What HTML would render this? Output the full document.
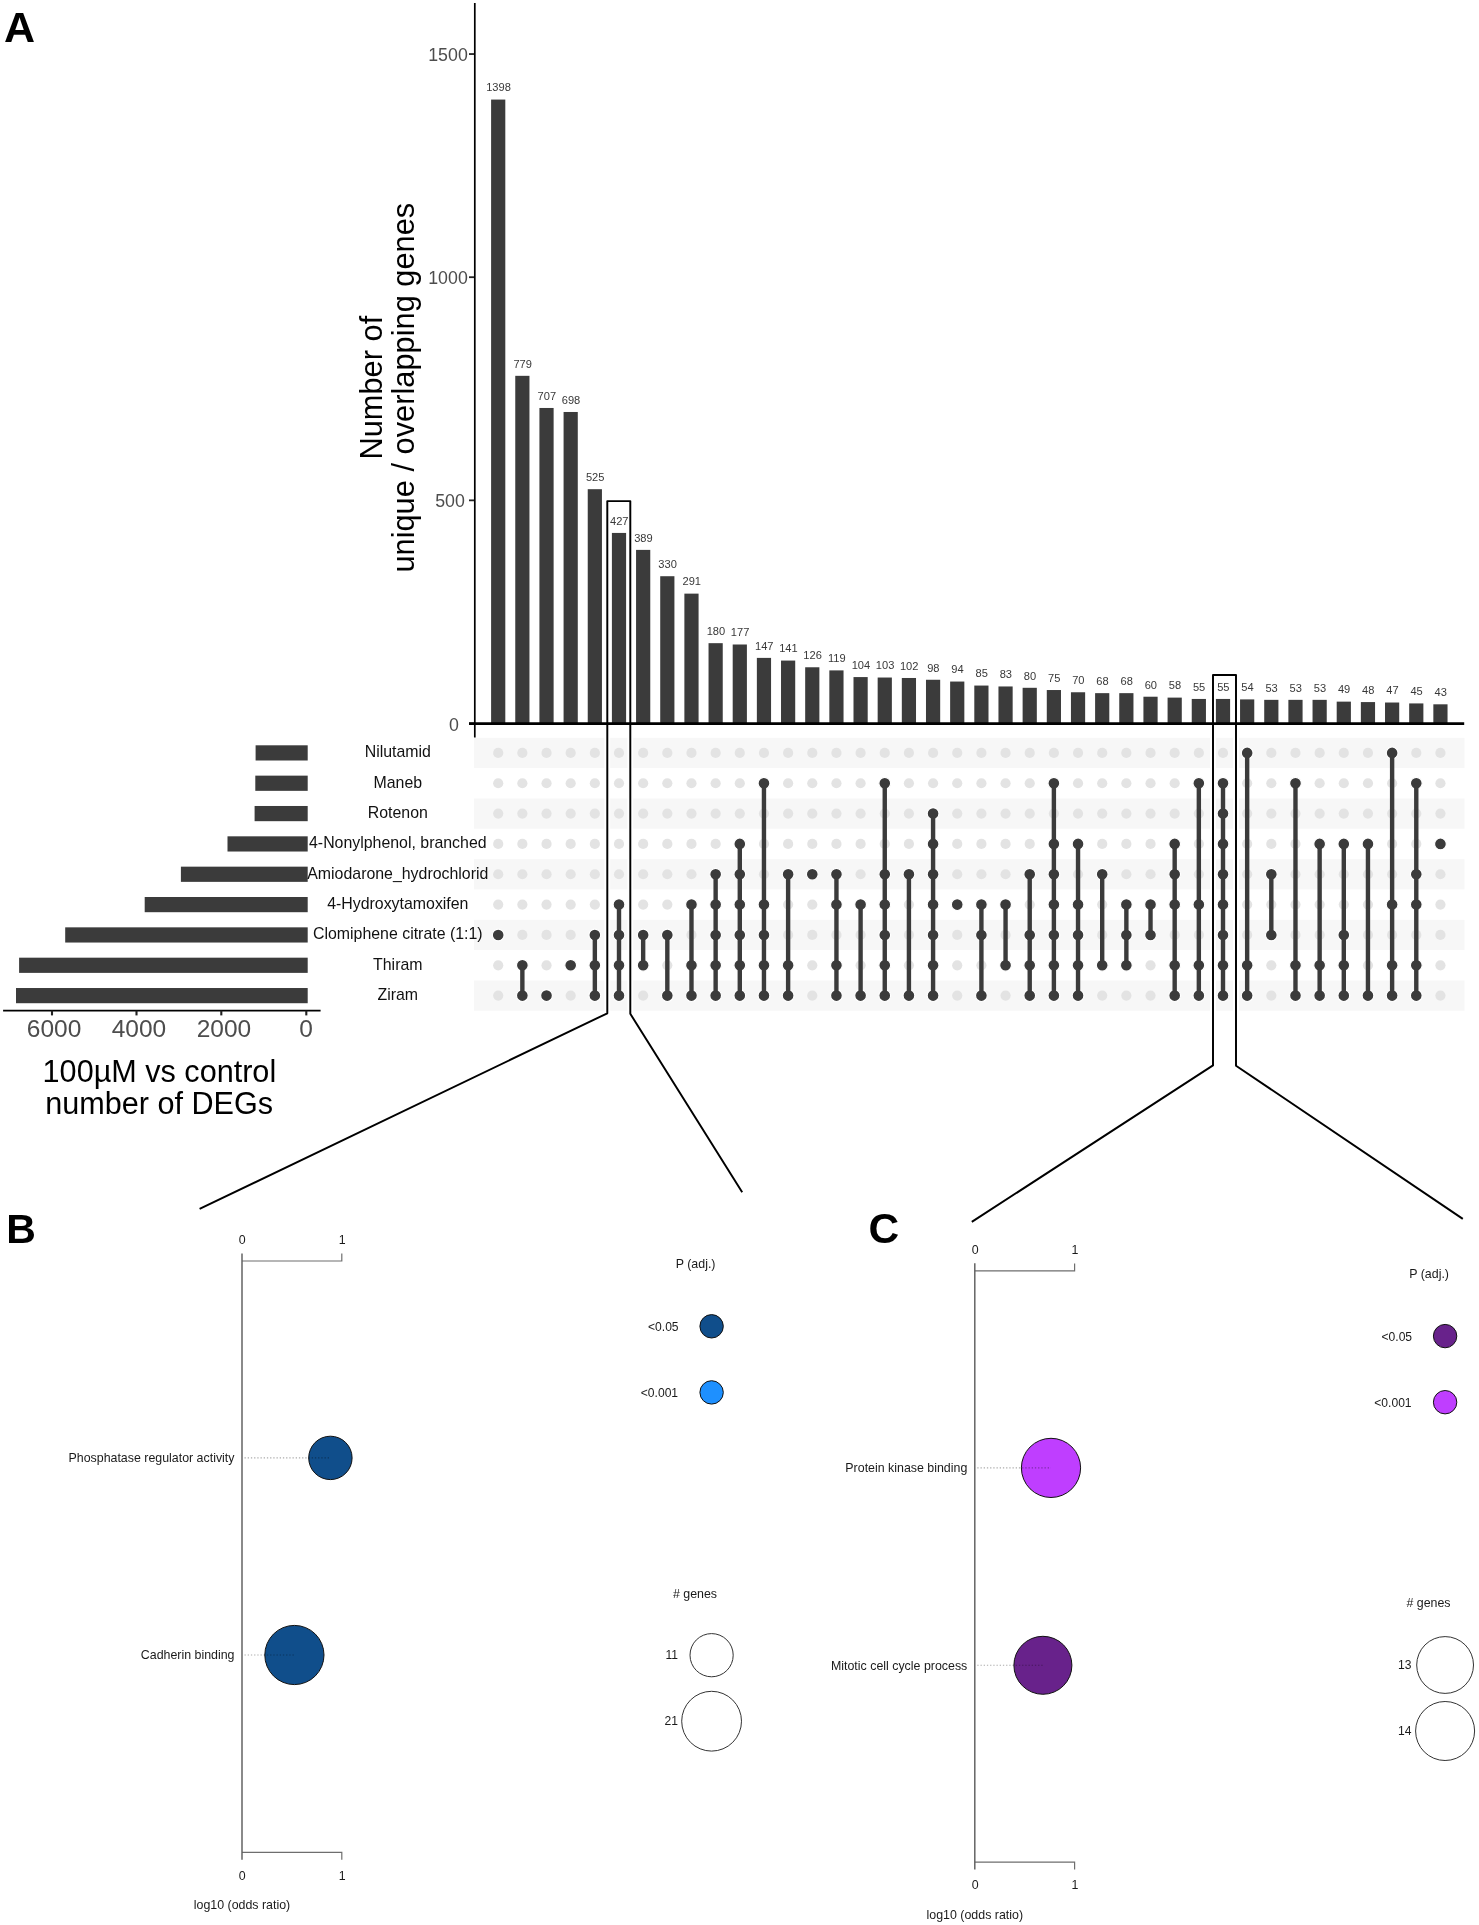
<!DOCTYPE html>
<html><head><meta charset="utf-8"><title>UpSet plot with enrichment panels</title>
<style>
html,body{margin:0;padding:0;background:#fff;}
svg{display:block;}
text{font-family:"Liberation Sans", sans-serif;}
</style></head>
<body>
<div style="will-change:transform">
<svg width="1479" height="1925" viewBox="0 0 1479 1925">
<rect width="1479" height="1925" fill="#fff"/>
<rect x="474" y="737.80" width="990.5" height="30.2" fill="#f7f7f7"/>
<rect x="474" y="798.48" width="990.5" height="30.2" fill="#f7f7f7"/>
<rect x="474" y="859.16" width="990.5" height="30.2" fill="#f7f7f7"/>
<rect x="474" y="919.84" width="990.5" height="30.2" fill="#f7f7f7"/>
<rect x="474" y="980.52" width="990.5" height="30.2" fill="#f7f7f7"/>
<rect x="491.10" y="99.57" width="14.2" height="623.93" fill="#3b3b3b"/>
<text x="498.50" y="91.37" font-size="11.1" fill="#383838" text-anchor="middle">1398</text>
<rect x="515.26" y="375.83" width="14.2" height="347.67" fill="#3b3b3b"/>
<text x="522.66" y="367.63" font-size="11.1" fill="#383838" text-anchor="middle">779</text>
<rect x="539.42" y="407.97" width="14.2" height="315.53" fill="#3b3b3b"/>
<text x="546.82" y="399.77" font-size="11.1" fill="#383838" text-anchor="middle">707</text>
<rect x="563.58" y="411.98" width="14.2" height="311.52" fill="#3b3b3b"/>
<text x="570.98" y="403.78" font-size="11.1" fill="#383838" text-anchor="middle">698</text>
<rect x="587.74" y="489.19" width="14.2" height="234.31" fill="#3b3b3b"/>
<text x="595.14" y="480.99" font-size="11.1" fill="#383838" text-anchor="middle">525</text>
<rect x="611.90" y="532.93" width="14.2" height="190.57" fill="#3b3b3b"/>
<text x="619.30" y="524.73" font-size="11.1" fill="#383838" text-anchor="middle">427</text>
<rect x="636.06" y="549.89" width="14.2" height="173.61" fill="#3b3b3b"/>
<text x="643.46" y="541.69" font-size="11.1" fill="#383838" text-anchor="middle">389</text>
<rect x="660.22" y="576.22" width="14.2" height="147.28" fill="#3b3b3b"/>
<text x="667.62" y="568.02" font-size="11.1" fill="#383838" text-anchor="middle">330</text>
<rect x="684.38" y="593.63" width="14.2" height="129.87" fill="#3b3b3b"/>
<text x="691.78" y="585.43" font-size="11.1" fill="#383838" text-anchor="middle">291</text>
<rect x="708.54" y="643.17" width="14.2" height="80.33" fill="#3b3b3b"/>
<text x="715.94" y="634.97" font-size="11.1" fill="#383838" text-anchor="middle">180</text>
<rect x="732.70" y="644.50" width="14.2" height="79.00" fill="#3b3b3b"/>
<text x="740.10" y="636.30" font-size="11.1" fill="#383838" text-anchor="middle">177</text>
<rect x="756.86" y="657.89" width="14.2" height="65.61" fill="#3b3b3b"/>
<text x="764.26" y="649.69" font-size="11.1" fill="#383838" text-anchor="middle">147</text>
<rect x="781.02" y="660.57" width="14.2" height="62.93" fill="#3b3b3b"/>
<text x="788.42" y="652.37" font-size="11.1" fill="#383838" text-anchor="middle">141</text>
<rect x="805.18" y="667.27" width="14.2" height="56.23" fill="#3b3b3b"/>
<text x="812.58" y="659.07" font-size="11.1" fill="#383838" text-anchor="middle">126</text>
<rect x="829.34" y="670.39" width="14.2" height="53.11" fill="#3b3b3b"/>
<text x="836.74" y="662.19" font-size="11.1" fill="#383838" text-anchor="middle">119</text>
<rect x="853.50" y="677.08" width="14.2" height="46.42" fill="#3b3b3b"/>
<text x="860.90" y="668.88" font-size="11.1" fill="#383838" text-anchor="middle">104</text>
<rect x="877.66" y="677.53" width="14.2" height="45.97" fill="#3b3b3b"/>
<text x="885.06" y="669.33" font-size="11.1" fill="#383838" text-anchor="middle">103</text>
<rect x="901.82" y="677.98" width="14.2" height="45.52" fill="#3b3b3b"/>
<text x="909.22" y="669.78" font-size="11.1" fill="#383838" text-anchor="middle">102</text>
<rect x="925.98" y="679.76" width="14.2" height="43.74" fill="#3b3b3b"/>
<text x="933.38" y="671.56" font-size="11.1" fill="#383838" text-anchor="middle">98</text>
<rect x="950.14" y="681.55" width="14.2" height="41.95" fill="#3b3b3b"/>
<text x="957.54" y="673.35" font-size="11.1" fill="#383838" text-anchor="middle">94</text>
<rect x="974.30" y="685.56" width="14.2" height="37.94" fill="#3b3b3b"/>
<text x="981.70" y="677.36" font-size="11.1" fill="#383838" text-anchor="middle">85</text>
<rect x="998.46" y="686.46" width="14.2" height="37.04" fill="#3b3b3b"/>
<text x="1005.86" y="678.26" font-size="11.1" fill="#383838" text-anchor="middle">83</text>
<rect x="1022.62" y="687.80" width="14.2" height="35.70" fill="#3b3b3b"/>
<text x="1030.02" y="679.60" font-size="11.1" fill="#383838" text-anchor="middle">80</text>
<rect x="1046.78" y="690.03" width="14.2" height="33.47" fill="#3b3b3b"/>
<text x="1054.18" y="681.83" font-size="11.1" fill="#383838" text-anchor="middle">75</text>
<rect x="1070.94" y="692.26" width="14.2" height="31.24" fill="#3b3b3b"/>
<text x="1078.34" y="684.06" font-size="11.1" fill="#383838" text-anchor="middle">70</text>
<rect x="1095.10" y="693.15" width="14.2" height="30.35" fill="#3b3b3b"/>
<text x="1102.50" y="684.95" font-size="11.1" fill="#383838" text-anchor="middle">68</text>
<rect x="1119.26" y="693.15" width="14.2" height="30.35" fill="#3b3b3b"/>
<text x="1126.66" y="684.95" font-size="11.1" fill="#383838" text-anchor="middle">68</text>
<rect x="1143.42" y="696.72" width="14.2" height="26.78" fill="#3b3b3b"/>
<text x="1150.82" y="688.52" font-size="11.1" fill="#383838" text-anchor="middle">60</text>
<rect x="1167.58" y="697.61" width="14.2" height="25.89" fill="#3b3b3b"/>
<text x="1174.98" y="689.41" font-size="11.1" fill="#383838" text-anchor="middle">58</text>
<rect x="1191.74" y="698.95" width="14.2" height="24.55" fill="#3b3b3b"/>
<text x="1199.14" y="690.75" font-size="11.1" fill="#383838" text-anchor="middle">55</text>
<rect x="1215.90" y="698.95" width="14.2" height="24.55" fill="#3b3b3b"/>
<text x="1223.30" y="690.75" font-size="11.1" fill="#383838" text-anchor="middle">55</text>
<rect x="1240.06" y="699.40" width="14.2" height="24.10" fill="#3b3b3b"/>
<text x="1247.46" y="691.20" font-size="11.1" fill="#383838" text-anchor="middle">54</text>
<rect x="1264.22" y="699.85" width="14.2" height="23.65" fill="#3b3b3b"/>
<text x="1271.62" y="691.65" font-size="11.1" fill="#383838" text-anchor="middle">53</text>
<rect x="1288.38" y="699.85" width="14.2" height="23.65" fill="#3b3b3b"/>
<text x="1295.78" y="691.65" font-size="11.1" fill="#383838" text-anchor="middle">53</text>
<rect x="1312.54" y="699.85" width="14.2" height="23.65" fill="#3b3b3b"/>
<text x="1319.94" y="691.65" font-size="11.1" fill="#383838" text-anchor="middle">53</text>
<rect x="1336.70" y="701.63" width="14.2" height="21.87" fill="#3b3b3b"/>
<text x="1344.10" y="693.43" font-size="11.1" fill="#383838" text-anchor="middle">49</text>
<rect x="1360.86" y="702.08" width="14.2" height="21.42" fill="#3b3b3b"/>
<text x="1368.26" y="693.88" font-size="11.1" fill="#383838" text-anchor="middle">48</text>
<rect x="1385.02" y="702.52" width="14.2" height="20.98" fill="#3b3b3b"/>
<text x="1392.42" y="694.32" font-size="11.1" fill="#383838" text-anchor="middle">47</text>
<rect x="1409.18" y="703.42" width="14.2" height="20.08" fill="#3b3b3b"/>
<text x="1416.58" y="695.22" font-size="11.1" fill="#383838" text-anchor="middle">45</text>
<rect x="1433.34" y="704.31" width="14.2" height="19.19" fill="#3b3b3b"/>
<text x="1440.74" y="696.11" font-size="11.1" fill="#383838" text-anchor="middle">43</text>
<line x1="474.8" y1="3" x2="474.8" y2="737.6" stroke="#000" stroke-width="1.7"/>
<line x1="469" y1="723.50" x2="474" y2="723.50" stroke="#222" stroke-width="1.8"/>
<text x="458.80" y="730.50" font-size="17.8" fill="#4d4d4d" text-anchor="end">0</text>
<line x1="469" y1="500.35" x2="474" y2="500.35" stroke="#222" stroke-width="1.8"/>
<text x="464.90" y="507.35" font-size="17.8" fill="#4d4d4d" text-anchor="end">500</text>
<line x1="469" y1="277.20" x2="474" y2="277.20" stroke="#222" stroke-width="1.8"/>
<text x="467.80" y="284.20" font-size="17.8" fill="#4d4d4d" text-anchor="end">1000</text>
<line x1="469" y1="54.05" x2="474" y2="54.05" stroke="#222" stroke-width="1.8"/>
<text x="467.80" y="61.05" font-size="17.8" fill="#4d4d4d" text-anchor="end">1500</text>
<line x1="469" y1="723.70" x2="1464.2" y2="723.70" stroke="#000" stroke-width="2.7"/>
<text transform="translate(382.4,387.7) rotate(-90)" font-size="30.8" text-anchor="middle" fill="#000">Number of</text>
<text transform="translate(414.0,387.7) rotate(-90)" font-size="30.8" text-anchor="middle" fill="#000">unique / overlapping genes</text>
<circle cx="498.20" cy="752.90" r="5.1" fill="#e3e3e3"/>
<circle cx="498.20" cy="783.24" r="5.1" fill="#e3e3e3"/>
<circle cx="498.20" cy="813.58" r="5.1" fill="#e3e3e3"/>
<circle cx="498.20" cy="843.92" r="5.1" fill="#e3e3e3"/>
<circle cx="498.20" cy="874.26" r="5.1" fill="#e3e3e3"/>
<circle cx="498.20" cy="904.60" r="5.1" fill="#e3e3e3"/>
<circle cx="498.20" cy="965.28" r="5.1" fill="#e3e3e3"/>
<circle cx="498.20" cy="995.62" r="5.1" fill="#e3e3e3"/>
<circle cx="522.36" cy="752.90" r="5.1" fill="#e3e3e3"/>
<circle cx="522.36" cy="783.24" r="5.1" fill="#e3e3e3"/>
<circle cx="522.36" cy="813.58" r="5.1" fill="#e3e3e3"/>
<circle cx="522.36" cy="843.92" r="5.1" fill="#e3e3e3"/>
<circle cx="522.36" cy="874.26" r="5.1" fill="#e3e3e3"/>
<circle cx="522.36" cy="904.60" r="5.1" fill="#e3e3e3"/>
<circle cx="522.36" cy="934.94" r="5.1" fill="#e3e3e3"/>
<circle cx="546.52" cy="752.90" r="5.1" fill="#e3e3e3"/>
<circle cx="546.52" cy="783.24" r="5.1" fill="#e3e3e3"/>
<circle cx="546.52" cy="813.58" r="5.1" fill="#e3e3e3"/>
<circle cx="546.52" cy="843.92" r="5.1" fill="#e3e3e3"/>
<circle cx="546.52" cy="874.26" r="5.1" fill="#e3e3e3"/>
<circle cx="546.52" cy="904.60" r="5.1" fill="#e3e3e3"/>
<circle cx="546.52" cy="934.94" r="5.1" fill="#e3e3e3"/>
<circle cx="546.52" cy="965.28" r="5.1" fill="#e3e3e3"/>
<circle cx="570.68" cy="752.90" r="5.1" fill="#e3e3e3"/>
<circle cx="570.68" cy="783.24" r="5.1" fill="#e3e3e3"/>
<circle cx="570.68" cy="813.58" r="5.1" fill="#e3e3e3"/>
<circle cx="570.68" cy="843.92" r="5.1" fill="#e3e3e3"/>
<circle cx="570.68" cy="874.26" r="5.1" fill="#e3e3e3"/>
<circle cx="570.68" cy="904.60" r="5.1" fill="#e3e3e3"/>
<circle cx="570.68" cy="934.94" r="5.1" fill="#e3e3e3"/>
<circle cx="570.68" cy="995.62" r="5.1" fill="#e3e3e3"/>
<circle cx="594.84" cy="752.90" r="5.1" fill="#e3e3e3"/>
<circle cx="594.84" cy="783.24" r="5.1" fill="#e3e3e3"/>
<circle cx="594.84" cy="813.58" r="5.1" fill="#e3e3e3"/>
<circle cx="594.84" cy="843.92" r="5.1" fill="#e3e3e3"/>
<circle cx="594.84" cy="874.26" r="5.1" fill="#e3e3e3"/>
<circle cx="594.84" cy="904.60" r="5.1" fill="#e3e3e3"/>
<circle cx="619.00" cy="752.90" r="5.1" fill="#e3e3e3"/>
<circle cx="619.00" cy="783.24" r="5.1" fill="#e3e3e3"/>
<circle cx="619.00" cy="813.58" r="5.1" fill="#e3e3e3"/>
<circle cx="619.00" cy="843.92" r="5.1" fill="#e3e3e3"/>
<circle cx="619.00" cy="874.26" r="5.1" fill="#e3e3e3"/>
<circle cx="643.16" cy="752.90" r="5.1" fill="#e3e3e3"/>
<circle cx="643.16" cy="783.24" r="5.1" fill="#e3e3e3"/>
<circle cx="643.16" cy="813.58" r="5.1" fill="#e3e3e3"/>
<circle cx="643.16" cy="843.92" r="5.1" fill="#e3e3e3"/>
<circle cx="643.16" cy="874.26" r="5.1" fill="#e3e3e3"/>
<circle cx="643.16" cy="904.60" r="5.1" fill="#e3e3e3"/>
<circle cx="643.16" cy="995.62" r="5.1" fill="#e3e3e3"/>
<circle cx="667.32" cy="752.90" r="5.1" fill="#e3e3e3"/>
<circle cx="667.32" cy="783.24" r="5.1" fill="#e3e3e3"/>
<circle cx="667.32" cy="813.58" r="5.1" fill="#e3e3e3"/>
<circle cx="667.32" cy="843.92" r="5.1" fill="#e3e3e3"/>
<circle cx="667.32" cy="874.26" r="5.1" fill="#e3e3e3"/>
<circle cx="667.32" cy="904.60" r="5.1" fill="#e3e3e3"/>
<circle cx="667.32" cy="965.28" r="5.1" fill="#e3e3e3"/>
<circle cx="691.48" cy="752.90" r="5.1" fill="#e3e3e3"/>
<circle cx="691.48" cy="783.24" r="5.1" fill="#e3e3e3"/>
<circle cx="691.48" cy="813.58" r="5.1" fill="#e3e3e3"/>
<circle cx="691.48" cy="843.92" r="5.1" fill="#e3e3e3"/>
<circle cx="691.48" cy="874.26" r="5.1" fill="#e3e3e3"/>
<circle cx="691.48" cy="934.94" r="5.1" fill="#e3e3e3"/>
<circle cx="715.64" cy="752.90" r="5.1" fill="#e3e3e3"/>
<circle cx="715.64" cy="783.24" r="5.1" fill="#e3e3e3"/>
<circle cx="715.64" cy="813.58" r="5.1" fill="#e3e3e3"/>
<circle cx="715.64" cy="843.92" r="5.1" fill="#e3e3e3"/>
<circle cx="739.80" cy="752.90" r="5.1" fill="#e3e3e3"/>
<circle cx="739.80" cy="783.24" r="5.1" fill="#e3e3e3"/>
<circle cx="739.80" cy="813.58" r="5.1" fill="#e3e3e3"/>
<circle cx="763.96" cy="752.90" r="5.1" fill="#e3e3e3"/>
<circle cx="763.96" cy="813.58" r="5.1" fill="#e3e3e3"/>
<circle cx="763.96" cy="843.92" r="5.1" fill="#e3e3e3"/>
<circle cx="763.96" cy="874.26" r="5.1" fill="#e3e3e3"/>
<circle cx="788.12" cy="752.90" r="5.1" fill="#e3e3e3"/>
<circle cx="788.12" cy="783.24" r="5.1" fill="#e3e3e3"/>
<circle cx="788.12" cy="813.58" r="5.1" fill="#e3e3e3"/>
<circle cx="788.12" cy="843.92" r="5.1" fill="#e3e3e3"/>
<circle cx="788.12" cy="904.60" r="5.1" fill="#e3e3e3"/>
<circle cx="788.12" cy="934.94" r="5.1" fill="#e3e3e3"/>
<circle cx="812.28" cy="752.90" r="5.1" fill="#e3e3e3"/>
<circle cx="812.28" cy="783.24" r="5.1" fill="#e3e3e3"/>
<circle cx="812.28" cy="813.58" r="5.1" fill="#e3e3e3"/>
<circle cx="812.28" cy="843.92" r="5.1" fill="#e3e3e3"/>
<circle cx="812.28" cy="904.60" r="5.1" fill="#e3e3e3"/>
<circle cx="812.28" cy="934.94" r="5.1" fill="#e3e3e3"/>
<circle cx="812.28" cy="965.28" r="5.1" fill="#e3e3e3"/>
<circle cx="812.28" cy="995.62" r="5.1" fill="#e3e3e3"/>
<circle cx="836.44" cy="752.90" r="5.1" fill="#e3e3e3"/>
<circle cx="836.44" cy="783.24" r="5.1" fill="#e3e3e3"/>
<circle cx="836.44" cy="813.58" r="5.1" fill="#e3e3e3"/>
<circle cx="836.44" cy="843.92" r="5.1" fill="#e3e3e3"/>
<circle cx="836.44" cy="934.94" r="5.1" fill="#e3e3e3"/>
<circle cx="860.60" cy="752.90" r="5.1" fill="#e3e3e3"/>
<circle cx="860.60" cy="783.24" r="5.1" fill="#e3e3e3"/>
<circle cx="860.60" cy="813.58" r="5.1" fill="#e3e3e3"/>
<circle cx="860.60" cy="843.92" r="5.1" fill="#e3e3e3"/>
<circle cx="860.60" cy="874.26" r="5.1" fill="#e3e3e3"/>
<circle cx="860.60" cy="934.94" r="5.1" fill="#e3e3e3"/>
<circle cx="860.60" cy="965.28" r="5.1" fill="#e3e3e3"/>
<circle cx="884.76" cy="752.90" r="5.1" fill="#e3e3e3"/>
<circle cx="884.76" cy="813.58" r="5.1" fill="#e3e3e3"/>
<circle cx="884.76" cy="843.92" r="5.1" fill="#e3e3e3"/>
<circle cx="908.92" cy="752.90" r="5.1" fill="#e3e3e3"/>
<circle cx="908.92" cy="783.24" r="5.1" fill="#e3e3e3"/>
<circle cx="908.92" cy="813.58" r="5.1" fill="#e3e3e3"/>
<circle cx="908.92" cy="843.92" r="5.1" fill="#e3e3e3"/>
<circle cx="908.92" cy="904.60" r="5.1" fill="#e3e3e3"/>
<circle cx="908.92" cy="934.94" r="5.1" fill="#e3e3e3"/>
<circle cx="908.92" cy="965.28" r="5.1" fill="#e3e3e3"/>
<circle cx="933.08" cy="752.90" r="5.1" fill="#e3e3e3"/>
<circle cx="933.08" cy="783.24" r="5.1" fill="#e3e3e3"/>
<circle cx="957.24" cy="752.90" r="5.1" fill="#e3e3e3"/>
<circle cx="957.24" cy="783.24" r="5.1" fill="#e3e3e3"/>
<circle cx="957.24" cy="813.58" r="5.1" fill="#e3e3e3"/>
<circle cx="957.24" cy="843.92" r="5.1" fill="#e3e3e3"/>
<circle cx="957.24" cy="874.26" r="5.1" fill="#e3e3e3"/>
<circle cx="957.24" cy="934.94" r="5.1" fill="#e3e3e3"/>
<circle cx="957.24" cy="965.28" r="5.1" fill="#e3e3e3"/>
<circle cx="957.24" cy="995.62" r="5.1" fill="#e3e3e3"/>
<circle cx="981.40" cy="752.90" r="5.1" fill="#e3e3e3"/>
<circle cx="981.40" cy="783.24" r="5.1" fill="#e3e3e3"/>
<circle cx="981.40" cy="813.58" r="5.1" fill="#e3e3e3"/>
<circle cx="981.40" cy="843.92" r="5.1" fill="#e3e3e3"/>
<circle cx="981.40" cy="874.26" r="5.1" fill="#e3e3e3"/>
<circle cx="981.40" cy="965.28" r="5.1" fill="#e3e3e3"/>
<circle cx="1005.56" cy="752.90" r="5.1" fill="#e3e3e3"/>
<circle cx="1005.56" cy="783.24" r="5.1" fill="#e3e3e3"/>
<circle cx="1005.56" cy="813.58" r="5.1" fill="#e3e3e3"/>
<circle cx="1005.56" cy="843.92" r="5.1" fill="#e3e3e3"/>
<circle cx="1005.56" cy="874.26" r="5.1" fill="#e3e3e3"/>
<circle cx="1005.56" cy="934.94" r="5.1" fill="#e3e3e3"/>
<circle cx="1005.56" cy="995.62" r="5.1" fill="#e3e3e3"/>
<circle cx="1029.72" cy="752.90" r="5.1" fill="#e3e3e3"/>
<circle cx="1029.72" cy="783.24" r="5.1" fill="#e3e3e3"/>
<circle cx="1029.72" cy="813.58" r="5.1" fill="#e3e3e3"/>
<circle cx="1029.72" cy="843.92" r="5.1" fill="#e3e3e3"/>
<circle cx="1029.72" cy="904.60" r="5.1" fill="#e3e3e3"/>
<circle cx="1053.88" cy="752.90" r="5.1" fill="#e3e3e3"/>
<circle cx="1053.88" cy="813.58" r="5.1" fill="#e3e3e3"/>
<circle cx="1078.04" cy="752.90" r="5.1" fill="#e3e3e3"/>
<circle cx="1078.04" cy="783.24" r="5.1" fill="#e3e3e3"/>
<circle cx="1078.04" cy="813.58" r="5.1" fill="#e3e3e3"/>
<circle cx="1078.04" cy="874.26" r="5.1" fill="#e3e3e3"/>
<circle cx="1102.20" cy="752.90" r="5.1" fill="#e3e3e3"/>
<circle cx="1102.20" cy="783.24" r="5.1" fill="#e3e3e3"/>
<circle cx="1102.20" cy="813.58" r="5.1" fill="#e3e3e3"/>
<circle cx="1102.20" cy="843.92" r="5.1" fill="#e3e3e3"/>
<circle cx="1102.20" cy="904.60" r="5.1" fill="#e3e3e3"/>
<circle cx="1102.20" cy="934.94" r="5.1" fill="#e3e3e3"/>
<circle cx="1102.20" cy="995.62" r="5.1" fill="#e3e3e3"/>
<circle cx="1126.36" cy="752.90" r="5.1" fill="#e3e3e3"/>
<circle cx="1126.36" cy="783.24" r="5.1" fill="#e3e3e3"/>
<circle cx="1126.36" cy="813.58" r="5.1" fill="#e3e3e3"/>
<circle cx="1126.36" cy="843.92" r="5.1" fill="#e3e3e3"/>
<circle cx="1126.36" cy="874.26" r="5.1" fill="#e3e3e3"/>
<circle cx="1126.36" cy="995.62" r="5.1" fill="#e3e3e3"/>
<circle cx="1150.52" cy="752.90" r="5.1" fill="#e3e3e3"/>
<circle cx="1150.52" cy="783.24" r="5.1" fill="#e3e3e3"/>
<circle cx="1150.52" cy="813.58" r="5.1" fill="#e3e3e3"/>
<circle cx="1150.52" cy="843.92" r="5.1" fill="#e3e3e3"/>
<circle cx="1150.52" cy="874.26" r="5.1" fill="#e3e3e3"/>
<circle cx="1150.52" cy="965.28" r="5.1" fill="#e3e3e3"/>
<circle cx="1150.52" cy="995.62" r="5.1" fill="#e3e3e3"/>
<circle cx="1174.68" cy="752.90" r="5.1" fill="#e3e3e3"/>
<circle cx="1174.68" cy="783.24" r="5.1" fill="#e3e3e3"/>
<circle cx="1174.68" cy="813.58" r="5.1" fill="#e3e3e3"/>
<circle cx="1174.68" cy="934.94" r="5.1" fill="#e3e3e3"/>
<circle cx="1198.84" cy="752.90" r="5.1" fill="#e3e3e3"/>
<circle cx="1198.84" cy="813.58" r="5.1" fill="#e3e3e3"/>
<circle cx="1198.84" cy="843.92" r="5.1" fill="#e3e3e3"/>
<circle cx="1198.84" cy="874.26" r="5.1" fill="#e3e3e3"/>
<circle cx="1198.84" cy="934.94" r="5.1" fill="#e3e3e3"/>
<circle cx="1223.00" cy="752.90" r="5.1" fill="#e3e3e3"/>
<circle cx="1247.16" cy="783.24" r="5.1" fill="#e3e3e3"/>
<circle cx="1247.16" cy="813.58" r="5.1" fill="#e3e3e3"/>
<circle cx="1247.16" cy="843.92" r="5.1" fill="#e3e3e3"/>
<circle cx="1247.16" cy="874.26" r="5.1" fill="#e3e3e3"/>
<circle cx="1247.16" cy="904.60" r="5.1" fill="#e3e3e3"/>
<circle cx="1247.16" cy="934.94" r="5.1" fill="#e3e3e3"/>
<circle cx="1271.32" cy="752.90" r="5.1" fill="#e3e3e3"/>
<circle cx="1271.32" cy="783.24" r="5.1" fill="#e3e3e3"/>
<circle cx="1271.32" cy="813.58" r="5.1" fill="#e3e3e3"/>
<circle cx="1271.32" cy="843.92" r="5.1" fill="#e3e3e3"/>
<circle cx="1271.32" cy="904.60" r="5.1" fill="#e3e3e3"/>
<circle cx="1271.32" cy="965.28" r="5.1" fill="#e3e3e3"/>
<circle cx="1271.32" cy="995.62" r="5.1" fill="#e3e3e3"/>
<circle cx="1295.48" cy="752.90" r="5.1" fill="#e3e3e3"/>
<circle cx="1295.48" cy="813.58" r="5.1" fill="#e3e3e3"/>
<circle cx="1295.48" cy="843.92" r="5.1" fill="#e3e3e3"/>
<circle cx="1295.48" cy="874.26" r="5.1" fill="#e3e3e3"/>
<circle cx="1295.48" cy="904.60" r="5.1" fill="#e3e3e3"/>
<circle cx="1295.48" cy="934.94" r="5.1" fill="#e3e3e3"/>
<circle cx="1319.64" cy="752.90" r="5.1" fill="#e3e3e3"/>
<circle cx="1319.64" cy="783.24" r="5.1" fill="#e3e3e3"/>
<circle cx="1319.64" cy="813.58" r="5.1" fill="#e3e3e3"/>
<circle cx="1319.64" cy="874.26" r="5.1" fill="#e3e3e3"/>
<circle cx="1319.64" cy="904.60" r="5.1" fill="#e3e3e3"/>
<circle cx="1319.64" cy="934.94" r="5.1" fill="#e3e3e3"/>
<circle cx="1343.80" cy="752.90" r="5.1" fill="#e3e3e3"/>
<circle cx="1343.80" cy="783.24" r="5.1" fill="#e3e3e3"/>
<circle cx="1343.80" cy="813.58" r="5.1" fill="#e3e3e3"/>
<circle cx="1343.80" cy="874.26" r="5.1" fill="#e3e3e3"/>
<circle cx="1343.80" cy="904.60" r="5.1" fill="#e3e3e3"/>
<circle cx="1367.96" cy="752.90" r="5.1" fill="#e3e3e3"/>
<circle cx="1367.96" cy="783.24" r="5.1" fill="#e3e3e3"/>
<circle cx="1367.96" cy="813.58" r="5.1" fill="#e3e3e3"/>
<circle cx="1367.96" cy="874.26" r="5.1" fill="#e3e3e3"/>
<circle cx="1367.96" cy="904.60" r="5.1" fill="#e3e3e3"/>
<circle cx="1367.96" cy="934.94" r="5.1" fill="#e3e3e3"/>
<circle cx="1367.96" cy="965.28" r="5.1" fill="#e3e3e3"/>
<circle cx="1392.12" cy="783.24" r="5.1" fill="#e3e3e3"/>
<circle cx="1392.12" cy="813.58" r="5.1" fill="#e3e3e3"/>
<circle cx="1392.12" cy="843.92" r="5.1" fill="#e3e3e3"/>
<circle cx="1392.12" cy="874.26" r="5.1" fill="#e3e3e3"/>
<circle cx="1392.12" cy="934.94" r="5.1" fill="#e3e3e3"/>
<circle cx="1416.28" cy="752.90" r="5.1" fill="#e3e3e3"/>
<circle cx="1416.28" cy="813.58" r="5.1" fill="#e3e3e3"/>
<circle cx="1416.28" cy="843.92" r="5.1" fill="#e3e3e3"/>
<circle cx="1416.28" cy="934.94" r="5.1" fill="#e3e3e3"/>
<circle cx="1440.44" cy="752.90" r="5.1" fill="#e3e3e3"/>
<circle cx="1440.44" cy="783.24" r="5.1" fill="#e3e3e3"/>
<circle cx="1440.44" cy="813.58" r="5.1" fill="#e3e3e3"/>
<circle cx="1440.44" cy="874.26" r="5.1" fill="#e3e3e3"/>
<circle cx="1440.44" cy="904.60" r="5.1" fill="#e3e3e3"/>
<circle cx="1440.44" cy="934.94" r="5.1" fill="#e3e3e3"/>
<circle cx="1440.44" cy="965.28" r="5.1" fill="#e3e3e3"/>
<circle cx="1440.44" cy="995.62" r="5.1" fill="#e3e3e3"/>
<circle cx="498.20" cy="934.94" r="5.9" fill="#3b3b3b" stroke="#fff" stroke-width="1.2"/>
<circle cx="522.36" cy="965.28" r="5.9" fill="#3b3b3b" stroke="#fff" stroke-width="1.2"/>
<circle cx="522.36" cy="995.62" r="5.9" fill="#3b3b3b" stroke="#fff" stroke-width="1.2"/>
<circle cx="546.52" cy="995.62" r="5.9" fill="#3b3b3b" stroke="#fff" stroke-width="1.2"/>
<circle cx="570.68" cy="965.28" r="5.9" fill="#3b3b3b" stroke="#fff" stroke-width="1.2"/>
<circle cx="594.84" cy="934.94" r="5.9" fill="#3b3b3b" stroke="#fff" stroke-width="1.2"/>
<circle cx="594.84" cy="965.28" r="5.9" fill="#3b3b3b" stroke="#fff" stroke-width="1.2"/>
<circle cx="594.84" cy="995.62" r="5.9" fill="#3b3b3b" stroke="#fff" stroke-width="1.2"/>
<circle cx="619.00" cy="904.60" r="5.9" fill="#3b3b3b" stroke="#fff" stroke-width="1.2"/>
<circle cx="619.00" cy="934.94" r="5.9" fill="#3b3b3b" stroke="#fff" stroke-width="1.2"/>
<circle cx="619.00" cy="965.28" r="5.9" fill="#3b3b3b" stroke="#fff" stroke-width="1.2"/>
<circle cx="619.00" cy="995.62" r="5.9" fill="#3b3b3b" stroke="#fff" stroke-width="1.2"/>
<circle cx="643.16" cy="934.94" r="5.9" fill="#3b3b3b" stroke="#fff" stroke-width="1.2"/>
<circle cx="643.16" cy="965.28" r="5.9" fill="#3b3b3b" stroke="#fff" stroke-width="1.2"/>
<circle cx="667.32" cy="934.94" r="5.9" fill="#3b3b3b" stroke="#fff" stroke-width="1.2"/>
<circle cx="667.32" cy="995.62" r="5.9" fill="#3b3b3b" stroke="#fff" stroke-width="1.2"/>
<circle cx="691.48" cy="904.60" r="5.9" fill="#3b3b3b" stroke="#fff" stroke-width="1.2"/>
<circle cx="691.48" cy="965.28" r="5.9" fill="#3b3b3b" stroke="#fff" stroke-width="1.2"/>
<circle cx="691.48" cy="995.62" r="5.9" fill="#3b3b3b" stroke="#fff" stroke-width="1.2"/>
<circle cx="715.64" cy="874.26" r="5.9" fill="#3b3b3b" stroke="#fff" stroke-width="1.2"/>
<circle cx="715.64" cy="904.60" r="5.9" fill="#3b3b3b" stroke="#fff" stroke-width="1.2"/>
<circle cx="715.64" cy="934.94" r="5.9" fill="#3b3b3b" stroke="#fff" stroke-width="1.2"/>
<circle cx="715.64" cy="965.28" r="5.9" fill="#3b3b3b" stroke="#fff" stroke-width="1.2"/>
<circle cx="715.64" cy="995.62" r="5.9" fill="#3b3b3b" stroke="#fff" stroke-width="1.2"/>
<circle cx="739.80" cy="843.92" r="5.9" fill="#3b3b3b" stroke="#fff" stroke-width="1.2"/>
<circle cx="739.80" cy="874.26" r="5.9" fill="#3b3b3b" stroke="#fff" stroke-width="1.2"/>
<circle cx="739.80" cy="904.60" r="5.9" fill="#3b3b3b" stroke="#fff" stroke-width="1.2"/>
<circle cx="739.80" cy="934.94" r="5.9" fill="#3b3b3b" stroke="#fff" stroke-width="1.2"/>
<circle cx="739.80" cy="965.28" r="5.9" fill="#3b3b3b" stroke="#fff" stroke-width="1.2"/>
<circle cx="739.80" cy="995.62" r="5.9" fill="#3b3b3b" stroke="#fff" stroke-width="1.2"/>
<circle cx="763.96" cy="783.24" r="5.9" fill="#3b3b3b" stroke="#fff" stroke-width="1.2"/>
<circle cx="763.96" cy="904.60" r="5.9" fill="#3b3b3b" stroke="#fff" stroke-width="1.2"/>
<circle cx="763.96" cy="934.94" r="5.9" fill="#3b3b3b" stroke="#fff" stroke-width="1.2"/>
<circle cx="763.96" cy="965.28" r="5.9" fill="#3b3b3b" stroke="#fff" stroke-width="1.2"/>
<circle cx="763.96" cy="995.62" r="5.9" fill="#3b3b3b" stroke="#fff" stroke-width="1.2"/>
<circle cx="788.12" cy="874.26" r="5.9" fill="#3b3b3b" stroke="#fff" stroke-width="1.2"/>
<circle cx="788.12" cy="965.28" r="5.9" fill="#3b3b3b" stroke="#fff" stroke-width="1.2"/>
<circle cx="788.12" cy="995.62" r="5.9" fill="#3b3b3b" stroke="#fff" stroke-width="1.2"/>
<circle cx="812.28" cy="874.26" r="5.9" fill="#3b3b3b" stroke="#fff" stroke-width="1.2"/>
<circle cx="836.44" cy="874.26" r="5.9" fill="#3b3b3b" stroke="#fff" stroke-width="1.2"/>
<circle cx="836.44" cy="904.60" r="5.9" fill="#3b3b3b" stroke="#fff" stroke-width="1.2"/>
<circle cx="836.44" cy="965.28" r="5.9" fill="#3b3b3b" stroke="#fff" stroke-width="1.2"/>
<circle cx="836.44" cy="995.62" r="5.9" fill="#3b3b3b" stroke="#fff" stroke-width="1.2"/>
<circle cx="860.60" cy="904.60" r="5.9" fill="#3b3b3b" stroke="#fff" stroke-width="1.2"/>
<circle cx="860.60" cy="995.62" r="5.9" fill="#3b3b3b" stroke="#fff" stroke-width="1.2"/>
<circle cx="884.76" cy="783.24" r="5.9" fill="#3b3b3b" stroke="#fff" stroke-width="1.2"/>
<circle cx="884.76" cy="874.26" r="5.9" fill="#3b3b3b" stroke="#fff" stroke-width="1.2"/>
<circle cx="884.76" cy="904.60" r="5.9" fill="#3b3b3b" stroke="#fff" stroke-width="1.2"/>
<circle cx="884.76" cy="934.94" r="5.9" fill="#3b3b3b" stroke="#fff" stroke-width="1.2"/>
<circle cx="884.76" cy="965.28" r="5.9" fill="#3b3b3b" stroke="#fff" stroke-width="1.2"/>
<circle cx="884.76" cy="995.62" r="5.9" fill="#3b3b3b" stroke="#fff" stroke-width="1.2"/>
<circle cx="908.92" cy="874.26" r="5.9" fill="#3b3b3b" stroke="#fff" stroke-width="1.2"/>
<circle cx="908.92" cy="995.62" r="5.9" fill="#3b3b3b" stroke="#fff" stroke-width="1.2"/>
<circle cx="933.08" cy="813.58" r="5.9" fill="#3b3b3b" stroke="#fff" stroke-width="1.2"/>
<circle cx="933.08" cy="843.92" r="5.9" fill="#3b3b3b" stroke="#fff" stroke-width="1.2"/>
<circle cx="933.08" cy="874.26" r="5.9" fill="#3b3b3b" stroke="#fff" stroke-width="1.2"/>
<circle cx="933.08" cy="904.60" r="5.9" fill="#3b3b3b" stroke="#fff" stroke-width="1.2"/>
<circle cx="933.08" cy="934.94" r="5.9" fill="#3b3b3b" stroke="#fff" stroke-width="1.2"/>
<circle cx="933.08" cy="965.28" r="5.9" fill="#3b3b3b" stroke="#fff" stroke-width="1.2"/>
<circle cx="933.08" cy="995.62" r="5.9" fill="#3b3b3b" stroke="#fff" stroke-width="1.2"/>
<circle cx="957.24" cy="904.60" r="5.9" fill="#3b3b3b" stroke="#fff" stroke-width="1.2"/>
<circle cx="981.40" cy="904.60" r="5.9" fill="#3b3b3b" stroke="#fff" stroke-width="1.2"/>
<circle cx="981.40" cy="934.94" r="5.9" fill="#3b3b3b" stroke="#fff" stroke-width="1.2"/>
<circle cx="981.40" cy="995.62" r="5.9" fill="#3b3b3b" stroke="#fff" stroke-width="1.2"/>
<circle cx="1005.56" cy="904.60" r="5.9" fill="#3b3b3b" stroke="#fff" stroke-width="1.2"/>
<circle cx="1005.56" cy="965.28" r="5.9" fill="#3b3b3b" stroke="#fff" stroke-width="1.2"/>
<circle cx="1029.72" cy="874.26" r="5.9" fill="#3b3b3b" stroke="#fff" stroke-width="1.2"/>
<circle cx="1029.72" cy="934.94" r="5.9" fill="#3b3b3b" stroke="#fff" stroke-width="1.2"/>
<circle cx="1029.72" cy="965.28" r="5.9" fill="#3b3b3b" stroke="#fff" stroke-width="1.2"/>
<circle cx="1029.72" cy="995.62" r="5.9" fill="#3b3b3b" stroke="#fff" stroke-width="1.2"/>
<circle cx="1053.88" cy="783.24" r="5.9" fill="#3b3b3b" stroke="#fff" stroke-width="1.2"/>
<circle cx="1053.88" cy="843.92" r="5.9" fill="#3b3b3b" stroke="#fff" stroke-width="1.2"/>
<circle cx="1053.88" cy="874.26" r="5.9" fill="#3b3b3b" stroke="#fff" stroke-width="1.2"/>
<circle cx="1053.88" cy="904.60" r="5.9" fill="#3b3b3b" stroke="#fff" stroke-width="1.2"/>
<circle cx="1053.88" cy="934.94" r="5.9" fill="#3b3b3b" stroke="#fff" stroke-width="1.2"/>
<circle cx="1053.88" cy="965.28" r="5.9" fill="#3b3b3b" stroke="#fff" stroke-width="1.2"/>
<circle cx="1053.88" cy="995.62" r="5.9" fill="#3b3b3b" stroke="#fff" stroke-width="1.2"/>
<circle cx="1078.04" cy="843.92" r="5.9" fill="#3b3b3b" stroke="#fff" stroke-width="1.2"/>
<circle cx="1078.04" cy="904.60" r="5.9" fill="#3b3b3b" stroke="#fff" stroke-width="1.2"/>
<circle cx="1078.04" cy="934.94" r="5.9" fill="#3b3b3b" stroke="#fff" stroke-width="1.2"/>
<circle cx="1078.04" cy="965.28" r="5.9" fill="#3b3b3b" stroke="#fff" stroke-width="1.2"/>
<circle cx="1078.04" cy="995.62" r="5.9" fill="#3b3b3b" stroke="#fff" stroke-width="1.2"/>
<circle cx="1102.20" cy="874.26" r="5.9" fill="#3b3b3b" stroke="#fff" stroke-width="1.2"/>
<circle cx="1102.20" cy="965.28" r="5.9" fill="#3b3b3b" stroke="#fff" stroke-width="1.2"/>
<circle cx="1126.36" cy="904.60" r="5.9" fill="#3b3b3b" stroke="#fff" stroke-width="1.2"/>
<circle cx="1126.36" cy="934.94" r="5.9" fill="#3b3b3b" stroke="#fff" stroke-width="1.2"/>
<circle cx="1126.36" cy="965.28" r="5.9" fill="#3b3b3b" stroke="#fff" stroke-width="1.2"/>
<circle cx="1150.52" cy="904.60" r="5.9" fill="#3b3b3b" stroke="#fff" stroke-width="1.2"/>
<circle cx="1150.52" cy="934.94" r="5.9" fill="#3b3b3b" stroke="#fff" stroke-width="1.2"/>
<circle cx="1174.68" cy="843.92" r="5.9" fill="#3b3b3b" stroke="#fff" stroke-width="1.2"/>
<circle cx="1174.68" cy="874.26" r="5.9" fill="#3b3b3b" stroke="#fff" stroke-width="1.2"/>
<circle cx="1174.68" cy="904.60" r="5.9" fill="#3b3b3b" stroke="#fff" stroke-width="1.2"/>
<circle cx="1174.68" cy="965.28" r="5.9" fill="#3b3b3b" stroke="#fff" stroke-width="1.2"/>
<circle cx="1174.68" cy="995.62" r="5.9" fill="#3b3b3b" stroke="#fff" stroke-width="1.2"/>
<circle cx="1198.84" cy="783.24" r="5.9" fill="#3b3b3b" stroke="#fff" stroke-width="1.2"/>
<circle cx="1198.84" cy="904.60" r="5.9" fill="#3b3b3b" stroke="#fff" stroke-width="1.2"/>
<circle cx="1198.84" cy="965.28" r="5.9" fill="#3b3b3b" stroke="#fff" stroke-width="1.2"/>
<circle cx="1198.84" cy="995.62" r="5.9" fill="#3b3b3b" stroke="#fff" stroke-width="1.2"/>
<circle cx="1223.00" cy="783.24" r="5.9" fill="#3b3b3b" stroke="#fff" stroke-width="1.2"/>
<circle cx="1223.00" cy="813.58" r="5.9" fill="#3b3b3b" stroke="#fff" stroke-width="1.2"/>
<circle cx="1223.00" cy="843.92" r="5.9" fill="#3b3b3b" stroke="#fff" stroke-width="1.2"/>
<circle cx="1223.00" cy="874.26" r="5.9" fill="#3b3b3b" stroke="#fff" stroke-width="1.2"/>
<circle cx="1223.00" cy="904.60" r="5.9" fill="#3b3b3b" stroke="#fff" stroke-width="1.2"/>
<circle cx="1223.00" cy="934.94" r="5.9" fill="#3b3b3b" stroke="#fff" stroke-width="1.2"/>
<circle cx="1223.00" cy="965.28" r="5.9" fill="#3b3b3b" stroke="#fff" stroke-width="1.2"/>
<circle cx="1223.00" cy="995.62" r="5.9" fill="#3b3b3b" stroke="#fff" stroke-width="1.2"/>
<circle cx="1247.16" cy="752.90" r="5.9" fill="#3b3b3b" stroke="#fff" stroke-width="1.2"/>
<circle cx="1247.16" cy="965.28" r="5.9" fill="#3b3b3b" stroke="#fff" stroke-width="1.2"/>
<circle cx="1247.16" cy="995.62" r="5.9" fill="#3b3b3b" stroke="#fff" stroke-width="1.2"/>
<circle cx="1271.32" cy="874.26" r="5.9" fill="#3b3b3b" stroke="#fff" stroke-width="1.2"/>
<circle cx="1271.32" cy="934.94" r="5.9" fill="#3b3b3b" stroke="#fff" stroke-width="1.2"/>
<circle cx="1295.48" cy="783.24" r="5.9" fill="#3b3b3b" stroke="#fff" stroke-width="1.2"/>
<circle cx="1295.48" cy="965.28" r="5.9" fill="#3b3b3b" stroke="#fff" stroke-width="1.2"/>
<circle cx="1295.48" cy="995.62" r="5.9" fill="#3b3b3b" stroke="#fff" stroke-width="1.2"/>
<circle cx="1319.64" cy="843.92" r="5.9" fill="#3b3b3b" stroke="#fff" stroke-width="1.2"/>
<circle cx="1319.64" cy="965.28" r="5.9" fill="#3b3b3b" stroke="#fff" stroke-width="1.2"/>
<circle cx="1319.64" cy="995.62" r="5.9" fill="#3b3b3b" stroke="#fff" stroke-width="1.2"/>
<circle cx="1343.80" cy="843.92" r="5.9" fill="#3b3b3b" stroke="#fff" stroke-width="1.2"/>
<circle cx="1343.80" cy="934.94" r="5.9" fill="#3b3b3b" stroke="#fff" stroke-width="1.2"/>
<circle cx="1343.80" cy="965.28" r="5.9" fill="#3b3b3b" stroke="#fff" stroke-width="1.2"/>
<circle cx="1343.80" cy="995.62" r="5.9" fill="#3b3b3b" stroke="#fff" stroke-width="1.2"/>
<circle cx="1367.96" cy="843.92" r="5.9" fill="#3b3b3b" stroke="#fff" stroke-width="1.2"/>
<circle cx="1367.96" cy="995.62" r="5.9" fill="#3b3b3b" stroke="#fff" stroke-width="1.2"/>
<circle cx="1392.12" cy="752.90" r="5.9" fill="#3b3b3b" stroke="#fff" stroke-width="1.2"/>
<circle cx="1392.12" cy="904.60" r="5.9" fill="#3b3b3b" stroke="#fff" stroke-width="1.2"/>
<circle cx="1392.12" cy="965.28" r="5.9" fill="#3b3b3b" stroke="#fff" stroke-width="1.2"/>
<circle cx="1392.12" cy="995.62" r="5.9" fill="#3b3b3b" stroke="#fff" stroke-width="1.2"/>
<circle cx="1416.28" cy="783.24" r="5.9" fill="#3b3b3b" stroke="#fff" stroke-width="1.2"/>
<circle cx="1416.28" cy="874.26" r="5.9" fill="#3b3b3b" stroke="#fff" stroke-width="1.2"/>
<circle cx="1416.28" cy="904.60" r="5.9" fill="#3b3b3b" stroke="#fff" stroke-width="1.2"/>
<circle cx="1416.28" cy="965.28" r="5.9" fill="#3b3b3b" stroke="#fff" stroke-width="1.2"/>
<circle cx="1416.28" cy="995.62" r="5.9" fill="#3b3b3b" stroke="#fff" stroke-width="1.2"/>
<circle cx="1440.44" cy="843.92" r="5.9" fill="#3b3b3b" stroke="#fff" stroke-width="1.2"/>
<line x1="522.36" y1="965.28" x2="522.36" y2="995.62" stroke="#3b3b3b" stroke-width="4.4"/>
<line x1="594.84" y1="934.94" x2="594.84" y2="995.62" stroke="#3b3b3b" stroke-width="4.4"/>
<line x1="619.00" y1="904.60" x2="619.00" y2="995.62" stroke="#3b3b3b" stroke-width="4.4"/>
<line x1="643.16" y1="934.94" x2="643.16" y2="965.28" stroke="#3b3b3b" stroke-width="4.4"/>
<line x1="667.32" y1="934.94" x2="667.32" y2="995.62" stroke="#3b3b3b" stroke-width="4.4"/>
<line x1="691.48" y1="904.60" x2="691.48" y2="995.62" stroke="#3b3b3b" stroke-width="4.4"/>
<line x1="715.64" y1="874.26" x2="715.64" y2="995.62" stroke="#3b3b3b" stroke-width="4.4"/>
<line x1="739.80" y1="843.92" x2="739.80" y2="995.62" stroke="#3b3b3b" stroke-width="4.4"/>
<line x1="763.96" y1="783.24" x2="763.96" y2="995.62" stroke="#3b3b3b" stroke-width="4.4"/>
<line x1="788.12" y1="874.26" x2="788.12" y2="995.62" stroke="#3b3b3b" stroke-width="4.4"/>
<line x1="836.44" y1="874.26" x2="836.44" y2="995.62" stroke="#3b3b3b" stroke-width="4.4"/>
<line x1="860.60" y1="904.60" x2="860.60" y2="995.62" stroke="#3b3b3b" stroke-width="4.4"/>
<line x1="884.76" y1="783.24" x2="884.76" y2="995.62" stroke="#3b3b3b" stroke-width="4.4"/>
<line x1="908.92" y1="874.26" x2="908.92" y2="995.62" stroke="#3b3b3b" stroke-width="4.4"/>
<line x1="933.08" y1="813.58" x2="933.08" y2="995.62" stroke="#3b3b3b" stroke-width="4.4"/>
<line x1="981.40" y1="904.60" x2="981.40" y2="995.62" stroke="#3b3b3b" stroke-width="4.4"/>
<line x1="1005.56" y1="904.60" x2="1005.56" y2="965.28" stroke="#3b3b3b" stroke-width="4.4"/>
<line x1="1029.72" y1="874.26" x2="1029.72" y2="995.62" stroke="#3b3b3b" stroke-width="4.4"/>
<line x1="1053.88" y1="783.24" x2="1053.88" y2="995.62" stroke="#3b3b3b" stroke-width="4.4"/>
<line x1="1078.04" y1="843.92" x2="1078.04" y2="995.62" stroke="#3b3b3b" stroke-width="4.4"/>
<line x1="1102.20" y1="874.26" x2="1102.20" y2="965.28" stroke="#3b3b3b" stroke-width="4.4"/>
<line x1="1126.36" y1="904.60" x2="1126.36" y2="965.28" stroke="#3b3b3b" stroke-width="4.4"/>
<line x1="1150.52" y1="904.60" x2="1150.52" y2="934.94" stroke="#3b3b3b" stroke-width="4.4"/>
<line x1="1174.68" y1="843.92" x2="1174.68" y2="995.62" stroke="#3b3b3b" stroke-width="4.4"/>
<line x1="1198.84" y1="783.24" x2="1198.84" y2="995.62" stroke="#3b3b3b" stroke-width="4.4"/>
<line x1="1223.00" y1="783.24" x2="1223.00" y2="995.62" stroke="#3b3b3b" stroke-width="4.4"/>
<line x1="1247.16" y1="752.90" x2="1247.16" y2="995.62" stroke="#3b3b3b" stroke-width="4.4"/>
<line x1="1271.32" y1="874.26" x2="1271.32" y2="934.94" stroke="#3b3b3b" stroke-width="4.4"/>
<line x1="1295.48" y1="783.24" x2="1295.48" y2="995.62" stroke="#3b3b3b" stroke-width="4.4"/>
<line x1="1319.64" y1="843.92" x2="1319.64" y2="995.62" stroke="#3b3b3b" stroke-width="4.4"/>
<line x1="1343.80" y1="843.92" x2="1343.80" y2="995.62" stroke="#3b3b3b" stroke-width="4.4"/>
<line x1="1367.96" y1="843.92" x2="1367.96" y2="995.62" stroke="#3b3b3b" stroke-width="4.4"/>
<line x1="1392.12" y1="752.90" x2="1392.12" y2="995.62" stroke="#3b3b3b" stroke-width="4.4"/>
<line x1="1416.28" y1="783.24" x2="1416.28" y2="995.62" stroke="#3b3b3b" stroke-width="4.4"/>
<rect x="255.60" y="745.30" width="52.10" height="15.2" fill="#3b3b3b"/>
<text x="397.80" y="757.30" font-size="15.9" fill="#111" text-anchor="middle">Nilutamid</text>
<rect x="255.30" y="775.64" width="52.40" height="15.2" fill="#3b3b3b"/>
<text x="397.80" y="787.64" font-size="15.9" fill="#111" text-anchor="middle">Maneb</text>
<rect x="254.60" y="805.98" width="53.10" height="15.2" fill="#3b3b3b"/>
<text x="397.80" y="817.98" font-size="15.9" fill="#111" text-anchor="middle">Rotenon</text>
<rect x="227.50" y="836.32" width="80.20" height="15.2" fill="#3b3b3b"/>
<text x="397.80" y="848.32" font-size="15.9" fill="#111" text-anchor="middle">4-Nonylphenol, branched</text>
<rect x="180.90" y="866.66" width="126.80" height="15.2" fill="#3b3b3b"/>
<text x="397.80" y="878.66" font-size="15.9" fill="#111" text-anchor="middle">Amiodarone_hydrochlorid</text>
<rect x="144.70" y="897.00" width="163.00" height="15.2" fill="#3b3b3b"/>
<text x="397.80" y="909.00" font-size="15.9" fill="#111" text-anchor="middle">4-Hydroxytamoxifen</text>
<rect x="65.20" y="927.34" width="242.50" height="15.2" fill="#3b3b3b"/>
<text x="397.80" y="939.34" font-size="15.9" fill="#111" text-anchor="middle">Clomiphene citrate (1:1)</text>
<rect x="19.10" y="957.68" width="288.60" height="15.2" fill="#3b3b3b"/>
<text x="397.80" y="969.68" font-size="15.9" fill="#111" text-anchor="middle">Thiram</text>
<rect x="16.00" y="988.02" width="291.70" height="15.2" fill="#3b3b3b"/>
<text x="397.80" y="1000.02" font-size="15.9" fill="#111" text-anchor="middle">Ziram</text>
<line x1="3.1" y1="1010.6" x2="320.6" y2="1010.6" stroke="#000" stroke-width="1.8"/>
<line x1="52.0" y1="1010.6" x2="52.0" y2="1015.4" stroke="#222" stroke-width="2.1"/>
<text x="54.10" y="1037.20" font-size="24.5" fill="#4d4d4d" text-anchor="middle">6000</text>
<line x1="136.5" y1="1010.6" x2="136.5" y2="1015.4" stroke="#222" stroke-width="2.1"/>
<text x="138.90" y="1037.20" font-size="24.5" fill="#4d4d4d" text-anchor="middle">4000</text>
<line x1="221.3" y1="1010.6" x2="221.3" y2="1015.4" stroke="#222" stroke-width="2.1"/>
<text x="224.00" y="1037.20" font-size="24.5" fill="#4d4d4d" text-anchor="middle">2000</text>
<line x1="306.3" y1="1010.6" x2="306.3" y2="1015.4" stroke="#222" stroke-width="2.1"/>
<text x="306.10" y="1037.20" font-size="24.5" fill="#4d4d4d" text-anchor="middle">0</text>
<text x="159.40" y="1082.20" font-size="30.6" fill="#000" text-anchor="middle">100µM vs control</text>
<text x="159.20" y="1113.60" font-size="30.6" fill="#000" text-anchor="middle">number of DEGs</text>
<text x="4.00" y="41.80" font-size="43.0" fill="#000" text-anchor="start" font-weight="bold">A</text>
<text x="6.30" y="1242.70" font-size="41.0" fill="#000" text-anchor="start" font-weight="bold">B</text>
<text x="868.50" y="1243.20" font-size="42.5" fill="#000" text-anchor="start" font-weight="bold">C</text>
<path d="M607.3,1013.3 L607.3,737.5 M630.3,737.5 L630.3,1013.8" fill="none" stroke="#fff" stroke-width="5.8"/>
<path d="M199.6,1208.9 L607.3,1013.3 L607.3,501.1 L630.3,501.1 L630.3,1013.8 L742.2,1192.2" fill="none" stroke="#000" stroke-width="1.95" stroke-linejoin="round"/>
<path d="M1213.0,1065.4 L1213.0,737.5 M1236.0,737.5 L1236.0,1065.7" fill="none" stroke="#fff" stroke-width="5.8"/>
<path d="M971.8,1221.9 L1213.0,1065.4 L1213.0,674.9 L1236.0,674.9 L1236.0,1065.7 L1462.8,1218.9" fill="none" stroke="#000" stroke-width="1.95" stroke-linejoin="round"/>
<path d="M242.0,1261.0 L341.8,1261.0 L341.8,1253.6" stroke="#6e6e6e" stroke-width="1.2" fill="none"/>
<path d="M242.0,1852.4 L341.8,1852.4 L341.8,1859.8000000000002" stroke="#6e6e6e" stroke-width="1.2" fill="none"/>
<path d="M242.0,1253.4 L242.0,1859.8000000000002" stroke="#5e5e5e" stroke-width="1.45" fill="none"/>
<text x="242.30" y="1244.00" font-size="12.4" fill="#1a1a1a" text-anchor="middle">0</text>
<text x="342.10" y="1244.00" font-size="12.4" fill="#1a1a1a" text-anchor="middle">1</text>
<text x="242.30" y="1879.60" font-size="12.4" fill="#1a1a1a" text-anchor="middle">0</text>
<text x="342.10" y="1879.60" font-size="12.4" fill="#1a1a1a" text-anchor="middle">1</text>
<text x="242.00" y="1908.70" font-size="12.4" fill="#1a1a1a" text-anchor="middle">log10 (odds ratio)</text>
<circle cx="330.4" cy="1457.9" r="21.7" fill="#104E8B" stroke="#111" stroke-width="1"/>
<line x1="244.5" y1="1457.9" x2="330.4" y2="1457.9" stroke="#000" stroke-opacity="0.33" stroke-width="1.1" stroke-dasharray="1.3 1.9"/>
<text x="234.50" y="1462.20" font-size="12.4" fill="#1a1a1a" text-anchor="end">Phosphatase regulator activity</text>
<circle cx="294.4" cy="1655.0" r="29.6" fill="#104E8B" stroke="#111" stroke-width="1"/>
<line x1="244.5" y1="1655.0" x2="294.4" y2="1655.0" stroke="#000" stroke-opacity="0.33" stroke-width="1.1" stroke-dasharray="1.3 1.9"/>
<text x="234.50" y="1659.30" font-size="12.4" fill="#1a1a1a" text-anchor="end">Cadherin binding</text>
<text x="695.60" y="1268.40" font-size="12.4" fill="#1a1a1a" text-anchor="middle">P (adj.)</text>
<text x="678.60" y="1331.30" font-size="12.1" fill="#1a1a1a" text-anchor="end">&lt;0.05</text>
<circle cx="711.6" cy="1326.3" r="11.7" fill="#104E8B" stroke="#111" stroke-width="1"/>
<text x="678.10" y="1396.70" font-size="12.1" fill="#1a1a1a" text-anchor="end">&lt;0.001</text>
<circle cx="711.6" cy="1392.4" r="11.7" fill="#1E90FF" stroke="#111" stroke-width="1"/>
<text x="695.00" y="1597.50" font-size="12.4" fill="#1a1a1a" text-anchor="middle"># genes</text>
<text x="678.00" y="1659.40" font-size="12.1" fill="#1a1a1a" text-anchor="end">11</text>
<circle cx="711.6" cy="1655.2" r="21.6" fill="none" stroke="#333" stroke-width="1"/>
<text x="678.00" y="1725.30" font-size="12.1" fill="#1a1a1a" text-anchor="end">21</text>
<circle cx="711.6" cy="1721.2" r="29.9" fill="none" stroke="#333" stroke-width="1"/>
<path d="M974.8,1270.8 L1074.6,1270.8 L1074.6,1263.3999999999999" stroke="#6e6e6e" stroke-width="1.2" fill="none"/>
<path d="M974.8,1862.2 L1074.6,1862.2 L1074.6,1869.6000000000001" stroke="#6e6e6e" stroke-width="1.2" fill="none"/>
<path d="M974.8,1263.2 L974.8,1869.6000000000001" stroke="#5e5e5e" stroke-width="1.45" fill="none"/>
<text x="975.10" y="1253.80" font-size="12.4" fill="#1a1a1a" text-anchor="middle">0</text>
<text x="1074.90" y="1253.80" font-size="12.4" fill="#1a1a1a" text-anchor="middle">1</text>
<text x="975.10" y="1889.40" font-size="12.4" fill="#1a1a1a" text-anchor="middle">0</text>
<text x="1074.90" y="1889.40" font-size="12.4" fill="#1a1a1a" text-anchor="middle">1</text>
<text x="974.80" y="1918.50" font-size="12.4" fill="#1a1a1a" text-anchor="middle">log10 (odds ratio)</text>
<circle cx="1051.0" cy="1467.9" r="29.6" fill="#BF3EFF" stroke="#111" stroke-width="1"/>
<line x1="977.3" y1="1467.9" x2="1051.0" y2="1467.9" stroke="#000" stroke-opacity="0.33" stroke-width="1.1" stroke-dasharray="1.3 1.9"/>
<text x="967.30" y="1472.20" font-size="12.4" fill="#1a1a1a" text-anchor="end">Protein kinase binding</text>
<circle cx="1042.9" cy="1665.3" r="29.0" fill="#68228B" stroke="#111" stroke-width="1"/>
<line x1="977.3" y1="1665.3" x2="1042.9" y2="1665.3" stroke="#000" stroke-opacity="0.33" stroke-width="1.1" stroke-dasharray="1.3 1.9"/>
<text x="967.30" y="1669.60" font-size="12.4" fill="#1a1a1a" text-anchor="end">Mitotic cell cycle process</text>
<text x="1429.10" y="1278.20" font-size="12.4" fill="#1a1a1a" text-anchor="middle">P (adj.)</text>
<text x="1412.10" y="1341.10" font-size="12.1" fill="#1a1a1a" text-anchor="end">&lt;0.05</text>
<circle cx="1445.1" cy="1336.1" r="11.7" fill="#68228B" stroke="#111" stroke-width="1"/>
<text x="1411.60" y="1406.50" font-size="12.1" fill="#1a1a1a" text-anchor="end">&lt;0.001</text>
<circle cx="1445.1" cy="1402.2" r="11.7" fill="#BF3EFF" stroke="#111" stroke-width="1"/>
<text x="1428.50" y="1607.30" font-size="12.4" fill="#1a1a1a" text-anchor="middle"># genes</text>
<text x="1411.50" y="1669.20" font-size="12.1" fill="#1a1a1a" text-anchor="end">13</text>
<circle cx="1445.1" cy="1665.0" r="28.4" fill="none" stroke="#333" stroke-width="1"/>
<text x="1411.50" y="1735.10" font-size="12.1" fill="#1a1a1a" text-anchor="end">14</text>
<circle cx="1445.1" cy="1731.0" r="29.5" fill="none" stroke="#333" stroke-width="1"/>
</svg>
</div>
</body></html>
